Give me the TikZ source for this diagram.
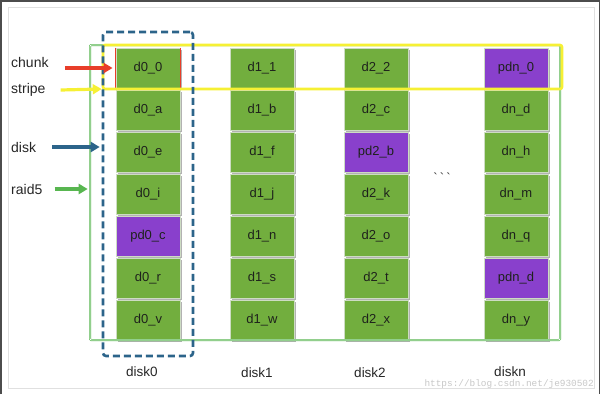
\documentclass[tikz,border=0pt]{standalone}
\usepackage{fontspec}
\setmainfont{Liberation Sans}
\newfontfamily\markfont{Liberation Mono}
\usetikzlibrary{arrows.meta,shadows}

\definecolor{blockgreen}{RGB}{114,174,62}
\definecolor{blockpurple}{RGB}{137,64,204}
\definecolor{blockedge}{RGB}{205,220,195}
\definecolor{blocktext}{RGB}{30,34,28}
\definecolor{diskblue}{RGB}{44,100,138}
\definecolor{stripeyellow}{RGB}{246,240,52}
\definecolor{raidgreen}{RGB}{88,182,80}
\definecolor{chunkred}{RGB}{232,62,42}

\tikzset{
	blk/.style={minimum width=64pt, minimum height=40pt, inner sep=0pt,
		draw=blockedge, line width=0.8pt, text=blocktext,
		font=\fontsize{13}{15}\selectfont,
		drop shadow={shadow xshift=2pt, shadow yshift=-1.5pt, opacity=0.3, fill=black}},
	dblk/.style={blk, fill=blockgreen},
	pblk/.style={blk, fill=blockpurple},
	lbl/.style={anchor=west, inner sep=0pt, text=black!85, font=\fontsize{14}{16}\selectfont},
	disklbl/.style={inner sep=0pt, text=black!85, font=\fontsize{13.5}{16}\selectfont},
	pointer/.style={line width=3.2pt, -{Triangle[length=9pt, width=10pt]}},
}

\begin{document}
\begin{tikzpicture}[x=1pt, y=-1pt]
	\useasboundingbox (0,0) rectangle (600,394);
	% page frame
	\draw[black!70, line width=1.5pt] (0.75,394) -- (0.75,0.75) -- (599.25,0.75) -- (599.25,394);
	\draw[black!12, line width=1pt] (8,7) rectangle (594,388);

	% chunks of every disk
	\foreach \c/\cx/\cells in {
		0/148/{d0\_0/dblk, d0\_a/dblk, d0\_e/dblk, d0\_i/dblk, pd0\_c/pblk, d0\_r/dblk, d0\_v/dblk},
		1/262/{d1\_1/dblk, d1\_b/dblk, d1\_f/dblk, d1\_j/dblk, d1\_n/dblk, d1\_s/dblk, d1\_w/dblk},
		2/376/{d2\_2/dblk, d2\_c/dblk, pd2\_b/pblk, d2\_k/dblk, d2\_o/dblk, d2\_t/dblk, d2\_x/dblk},
		n/516/{pdn\_0/pblk, dn\_d/dblk, dn\_h/dblk, dn\_m/dblk, dn\_q/dblk, pdn\_d/pblk, dn\_y/dblk}}
	{
		\foreach \txt/\sty [count=\r] in \cells
			\node[\sty] (b\c-\r) at (\cx, 26+42*\r) {\txt};
	}

	\node[text=black!80, font=\fontsize{13}{15}\selectfont] (more) at (442,178)
		{\textasciigrave\,\textasciigrave\,\textasciigrave};

	% red edges of one chunk
	\draw[chunkred, line width=1.4pt] (b0-1.north west) -- (b0-1.south west)
		(b0-1.north east) -- (b0-1.south east);

	% raid5, stripe and disk frames
	\node[draw=raidgreen, line width=0.6pt, double=white, double distance=0.8pt,
		rounded corners=1pt, minimum width=470pt, minimum height=295pt] (raid) at (325,192.5) {};
	\node[draw=stripeyellow, line width=2.6pt, rounded corners=2pt,
		minimum width=459pt, minimum height=44pt] (stripe) at (332.5,67) {};
	\node[draw=diskblue, line width=2.6pt, dash pattern=on 7pt off 4pt, rounded corners=3pt,
		minimum width=90pt, minimum height=324pt] (disk) at (148,194) {};

	% names on the left
	\node[lbl] (chunklbl) at (11,62) {chunk};
	\node[lbl] (stripelbl) at (11,90) {stripe};
	\node[lbl] (disklbl) at (11,147) {disk};
	\node[lbl] (raidlbl) at (11,189) {raid5};

	\draw[pointer, chunkred] ([xshift=16pt]chunklbl.east |- b0-1.west) -- ([xshift=-3pt]b0-1.west);
	\draw[pointer, stripeyellow] ([xshift=15pt]stripelbl.east) -- ([yshift=1pt]stripe.west |- stripelbl);
	\draw[pointer, diskblue] ([xshift=16pt]disklbl.east) -- ([xshift=-2pt]disk.west |- disklbl);
	\draw[pointer, raidgreen] ([xshift=12pt]raidlbl.east) -- ([xshift=-2pt]raid.west |- raidlbl);

	% disk names
	\node[disklbl] (name0) at (142,372) {disk0};
	\node[disklbl] (name1) at (257,373) {disk1};
	\node[disklbl] (name2) at (370,373) {disk2};
	\node[disklbl] (namen) at (510,372) {diskn};

	\node[anchor=east, inner sep=0pt, text=black!22, font=\markfont\fontsize{9.4}{11}\selectfont]
		(mark) at (594,384.5) {https://blog.csdn.net/je930502};
\end{tikzpicture}
\end{document}
